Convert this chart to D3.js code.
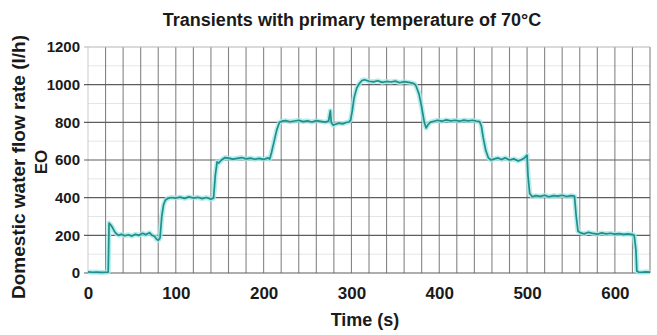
<!DOCTYPE html>
<html>
<head>
<meta charset="utf-8">
<script src="https://cdn.jsdelivr.net/npm/d3@7"></script>
<style>
  html, body { margin: 0; padding: 0; background: #fff; }
  svg { display: block; font-family: "Liberation Sans", Arial, Helvetica, sans-serif; }
</style>
</head>
<body>
<svg id="chart" width="657" height="335"></svg>
<script>
// ---- data ----
const chartTitle = "Transients with primary temperature of 70°C";
const xLabel = "Time (s)";
const yLabelLines = ["Domestic water flow rate (l/h)", "EO"];
const xTickValues = [0, 100, 200, 300, 400, 500, 600];
const yTickValues = [0, 200, 400, 600, 800, 1000, 1200];

const timeS = [
  0, 5, 10, 15, 20, 23,
  24, 26, 28, 30, 32, 35, 38, 42, 46, 50, 54, 58, 62, 66, 70, 73, 76, 78, 80, 82,
  84, 86, 88, 91, 95, 100, 105, 110, 115, 120, 125, 130, 135, 140, 143,
  145, 147, 149, 152, 156, 160, 165, 170, 175, 180, 185, 190, 195, 200, 205, 207,
  209, 212, 215, 218, 221, 225, 230, 235, 240, 245, 250, 255, 260, 265, 270, 274, 276, 277, 279, 282, 286, 290, 294, 297,
  299, 301, 303, 306, 309, 312, 315, 320, 325, 330, 335, 340, 345, 350, 355, 360, 365, 370, 372,
  374, 377, 380, 383, 385, 387, 390, 394, 398, 403, 408, 413, 418, 423, 428, 433, 438, 442, 446,
  448, 450, 453, 456, 459, 463, 467, 471, 475, 480, 485, 490, 494, 497, 500,
  501, 503, 506, 510, 515, 520, 525, 530, 535, 540, 545, 550, 554,
  556, 558, 561, 565, 570, 575, 580, 585, 590, 595, 600, 605, 610, 615, 620, 622,
  624, 625, 627, 630, 635, 640
];
const flowLh = [
  6, 4, 5, 3, 4, 5,
  265, 255, 240, 222, 210, 200, 206, 198, 203, 196, 206, 200, 211, 204, 214, 200, 194, 180, 174, 186,
  300, 362, 386, 396, 401, 398, 403, 396, 404, 398, 402, 395, 401, 392, 398,
  520, 590, 584, 600, 613, 610, 605, 609, 613, 606, 610, 604, 609, 603, 611, 605,
  640, 700, 760, 800, 806, 809, 803, 807, 811, 804, 808, 802, 809, 805, 801, 807, 862, 800, 785, 790, 796, 792, 799, 802,
  812, 862, 930, 982, 1006, 1022, 1026, 1018, 1015, 1021, 1012, 1017, 1014, 1019, 1010, 1016, 1012, 1008, 1004,
  988, 950, 880, 800, 770, 786, 801, 806, 811, 806, 813, 808, 811, 806, 812, 808, 811, 807, 804,
  780, 720, 650, 611, 600, 606, 611, 603, 612, 600, 606, 595, 603, 611, 626,
  520, 422, 405, 411, 407, 413, 405, 411, 408, 413, 406, 411, 408,
  300, 222, 213, 208, 216, 210, 206, 213, 208, 211, 206, 209, 205, 208, 204, 200,
  120, 10, 5, 4, 6, 5
];

// ---- layout ----
const svg = d3.select("#chart");
const x = d3.scaleLinear().domain([0, 640]).range([88, 650]);
const y = d3.scaleLinear().domain([0, 1200]).range([273, 47]);
const ink = "#1a1a1a";

svg.append("rect").attr("width", 657).attr("height", 335).attr("fill", "#fff");

const g = svg.append("g");
// faint minor horizontal lines
g.selectAll("line.mh").data(d3.range(100, 1200, 200)).join("line")
  .attr("class", "mh")
  .attr("x1", x(0)).attr("x2", x(640))
  .attr("y1", d => y(d)).attr("y2", d => y(d))
  .attr("stroke", "#e6e6e6").attr("stroke-width", 1);

// vertical grid every 20 s
g.selectAll("line.vg").data(d3.range(0, 641, 20)).join("line")
  .attr("class", "vg")
  .attr("x1", d => x(d)).attr("x2", d => x(d))
  .attr("y1", y(1200)).attr("y2", y(0))
  .attr("stroke", d => d === 0 ? "#c8c8c8" : "#6e6e6e")
  .attr("stroke-width", 1.1).attr("stroke-opacity", 0.85);

// horizontal grid every 200
g.selectAll("line.hg").data(yTickValues).join("line")
  .attr("class", "hg")
  .attr("x1", x(0) - 4).attr("x2", x(640))
  .attr("y1", d => y(d)).attr("y2", d => y(d))
  .attr("stroke", d => d === 1200 ? "#b5b5b5" : "#5e5e5e")
  .attr("stroke-width", 1.2);

// data line
const pts = timeS.map((t, i) => [t, flowLh[i]]);
const line = d3.line().x(d => x(d[0])).y(d => y(d[1]));
svg.append("path").datum(pts).attr("d", line)
  .attr("fill", "none").attr("stroke", "#a6e8e6").attr("stroke-width", 5)
  .attr("stroke-linejoin", "round").attr("stroke-opacity", 0.8);
svg.append("path").datum(pts).attr("d", line)
  .attr("fill", "none").attr("stroke", "#1d8f8c").attr("stroke-width", 1.7)
  .attr("stroke-linejoin", "round");

// y axis labels
const yAxis = d3.axisLeft(y).tickValues(yTickValues).tickFormat(d3.format("d")).tickSize(0).tickPadding(8);
const ya = svg.append("g").attr("transform", `translate(${x(0)},0)`).call(yAxis);
ya.select(".domain").remove();
ya.selectAll("text").attr("font-size", 15).attr("font-weight", "bold").attr("fill", ink)
  .attr("font-family", "Liberation Sans, Arial, sans-serif");

// x axis labels
const xAxis = d3.axisBottom(x).tickValues(xTickValues).tickFormat(d3.format("d")).tickSize(0).tickPadding(14);
const xa = svg.append("g").attr("transform", `translate(0,${y(0)})`).call(xAxis);
xa.select(".domain").remove();
xa.selectAll("text").attr("font-size", 17).attr("font-weight", "bold").attr("fill", ink)
  .attr("font-family", "Liberation Sans, Arial, sans-serif");

// title
svg.append("text").attr("x", 352).attr("y", 26).attr("text-anchor", "middle")
  .attr("font-size", 18).attr("font-weight", "bold").attr("fill", ink)
  .text(chartTitle);

// x label
svg.append("text").attr("x", 365).attr("y", 326).attr("text-anchor", "middle")
  .attr("font-size", 18).attr("font-weight", "bold").attr("fill", ink)
  .text(xLabel);

// y label (two lines)
svg.append("text").attr("transform", "translate(25,167) rotate(-90)")
  .attr("text-anchor", "middle")
  .attr("font-size", 19).attr("font-weight", "bold").attr("fill", ink)
  .text(yLabelLines[0]);
svg.append("text").attr("transform", "translate(47,162) rotate(-90)")
  .attr("text-anchor", "middle")
  .attr("font-size", 17).attr("font-weight", "bold").attr("fill", ink)
  .text(yLabelLines[1]);
</script>
</body>
</html>
